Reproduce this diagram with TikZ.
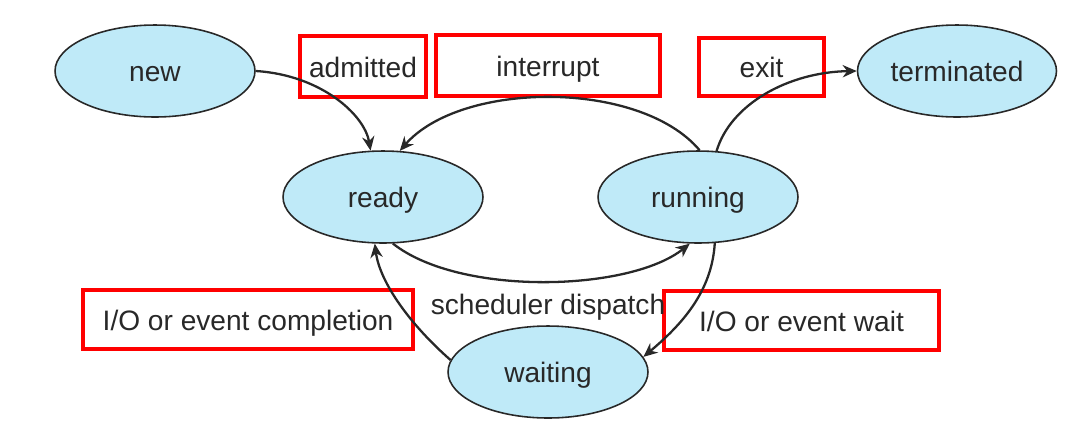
\documentclass[tikz,border=0pt]{standalone}
\usepackage{fontspec}
\setmainfont{Liberation Sans}
\usetikzlibrary{shapes.geometric,arrows.meta}
\definecolor{statefill}{RGB}{191,234,248}
\definecolor{ink}{RGB}{40,40,40}
\tikzset{
  txt/.style={text=ink, font=\fontsize{16}{19}\selectfont,
    text height=13pt, text depth=1pt},
  state/.style={txt, ellipse, draw=ink, line width=0.9pt, fill=statefill,
    minimum width=4cm, minimum height=1.84cm, inner sep=0pt},
  trans/.style={draw=ink, line width=1.3pt,
    -{Stealth[length=8pt,width=7pt]}},
  tag/.style={txt, draw=red, line width=0.08cm, inner sep=0pt},
  plain/.style={txt, inner sep=0pt}
}
\begin{document}
\begin{tikzpicture}[x=0.02cm, y=-0.02cm]
  \useasboundingbox (0,0) rectangle (1085,441);

  % states
  \node[state] (new)  at (155,71)  {new};
  \node[state] (ready) at (383,197) {ready};
  \node[state] (running) at (698,197) {running};
  \node[state, minimum width=3.98cm] (term) at (957,71) {terminated};
  \node[state] (wait) at (548,372) {waiting};

  % transition labels
  \node[tag, minimum width=2.52cm, minimum height=1.22cm] (admitted) at (363,66.5) {admitted};
  \node[tag, minimum width=4.48cm, minimum height=1.22cm] (interrupt) at (548,65.5) {interrupt};
  \node[tag, minimum width=2.50cm, minimum height=1.16cm] (exit) at (761.5,67) {exit};
  \node[tag, minimum width=6.62cm, minimum height=1.18cm] (iocomp) at (248,319.5) {I/O or event completion};
  \node[tag, minimum width=5.50cm, minimum height=1.18cm] (iowait) at (801.5,320.5) {I/O or event wait};
  \node[plain] (dispatch) at (548,304) {scheduler dispatch};

  % transitions
  \draw[trans] (new.east) .. controls +(65,4) and +(-6,-36) .. (ready.105);
  \draw[trans] (running.88) .. controls +(-60,-71) and +(61,-70) .. (ready.70);
  \draw[trans] (running.68) .. controls +(14,-47) and +(-68,1) .. (term.west);
  \draw[trans] (ready.-78) .. controls +(67,53) and +(-60,48) .. (running.-100);
  \draw[trans] (running.-70) .. controls +(-3,49) and +(38,-32) .. (wait.9);
  \draw[trans] (wait.173) .. controls +(-40,-35) and +(5,39) .. (ready.-100);
\end{tikzpicture}
\end{document}
